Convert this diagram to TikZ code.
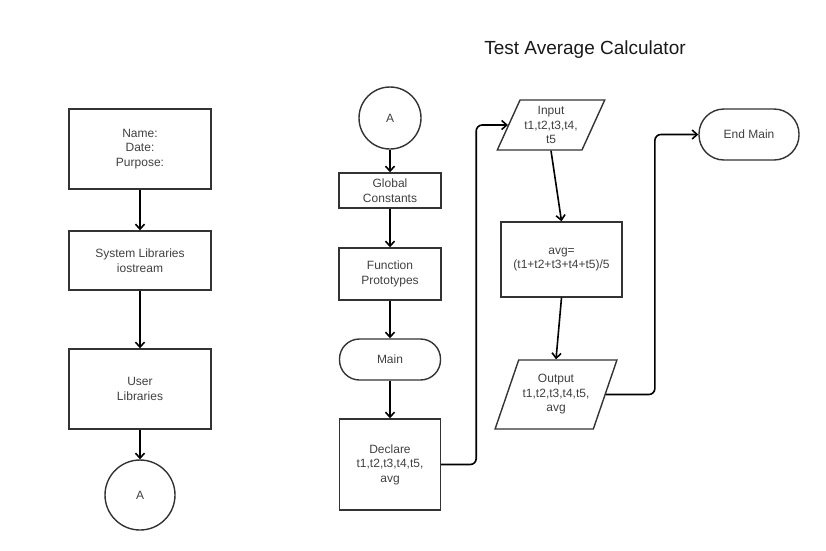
\documentclass[tikz,border=0pt]{standalone}
\usepackage{fontspec}
\setmainfont{Liberation Sans}
\usetikzlibrary{shapes.geometric, arrows.meta, positioning}

\begin{document}
\begin{tikzpicture}[
    x=1pt, y=-1pt,
    block/.style={rectangle, draw=black!80, line width=1.4pt, align=center, font=\fontsize{12}{14.5}\selectfont, text=black!75, inner sep=2pt},
    term/.style={block, rounded corners=20pt},
    conn/.style={block, circle},
    io/.style={block, trapezium, trapezium left angle=63, trapezium right angle=117, trapezium stretches=true},
    arr/.style={-{Straight Barb[length=5pt,width=9pt]}, line width=1.6pt, black}
]
\useasboundingbox (0,0) rectangle (826,550);
\node[font=\fontsize{19}{23}\selectfont, text=black!90] (title) at (585,50) {Test Average Calculator};
\node[block, minimum width=142pt, minimum height=80pt] (info) at (140,149) {Name:\\Date:\\Purpose:};
\node[block, minimum width=142pt, minimum height=59pt] (syslib) at (140,260.5) {System Libraries\\iostream};
\node[block, minimum width=142pt, minimum height=80pt] (usrlib) at (140,389) {User\\Libraries};
\node[conn, minimum size=70pt] (conA) at (140,495) {A};
\node[conn, minimum size=62pt] (conB) at (390,118) {A};
\node[block, minimum width=102pt, minimum height=35pt] (glob) at (390,190.5) {Global\\Constants};
\node[block, minimum width=102pt, minimum height=52pt] (proto) at (390,274) {Function\\Prototypes};
\node[term, minimum width=101pt, minimum height=41pt] (main) at (390,359.5) {Main};
\node[block, minimum width=101pt, minimum height=91pt] (decl) at (390,464.5) {Declare\\t1,t2,t3,t4,t5,\\avg};
\node[io, minimum width=108pt, minimum height=50pt] (inp) at (551,125) {Input\\t1,t2,t3,t4,\\t5};
\node[block, minimum width=121pt, minimum height=75pt] (calc) at (561.5,259.5) {avg=\\(t1+t2+t3+t4+t5)/5};
\node[io, minimum width=122pt, minimum height=69pt] (outp) at (556,394.5) {Output\\t1,t2,t3,t4,t5,\\avg};
\node[term, rounded corners=25pt, minimum width=100pt, minimum height=51pt] (endm) at (749,134.5) {End Main};
\draw[arr] (info) -- (syslib);
\draw[arr] (syslib) -- (usrlib);
\draw[arr] (usrlib) -- (conA);
\draw[arr] (conB) -- (glob);
\draw[arr] (glob) -- (proto);
\draw[arr] (proto) -- (main);
\draw[arr] (main) -- (decl);
\draw[arr, rounded corners=6pt] (decl.east) -- ++(35,0) |- (inp.west);
\draw[arr] (inp.south -| inp.center) -- (calc.north);
\draw[arr] (calc.south) -- (outp.north -| outp.center);
\draw[arr, rounded corners=6pt] (outp.east) -- ++(49,0) |- (endm.west);
\end{tikzpicture}
\end{document}
